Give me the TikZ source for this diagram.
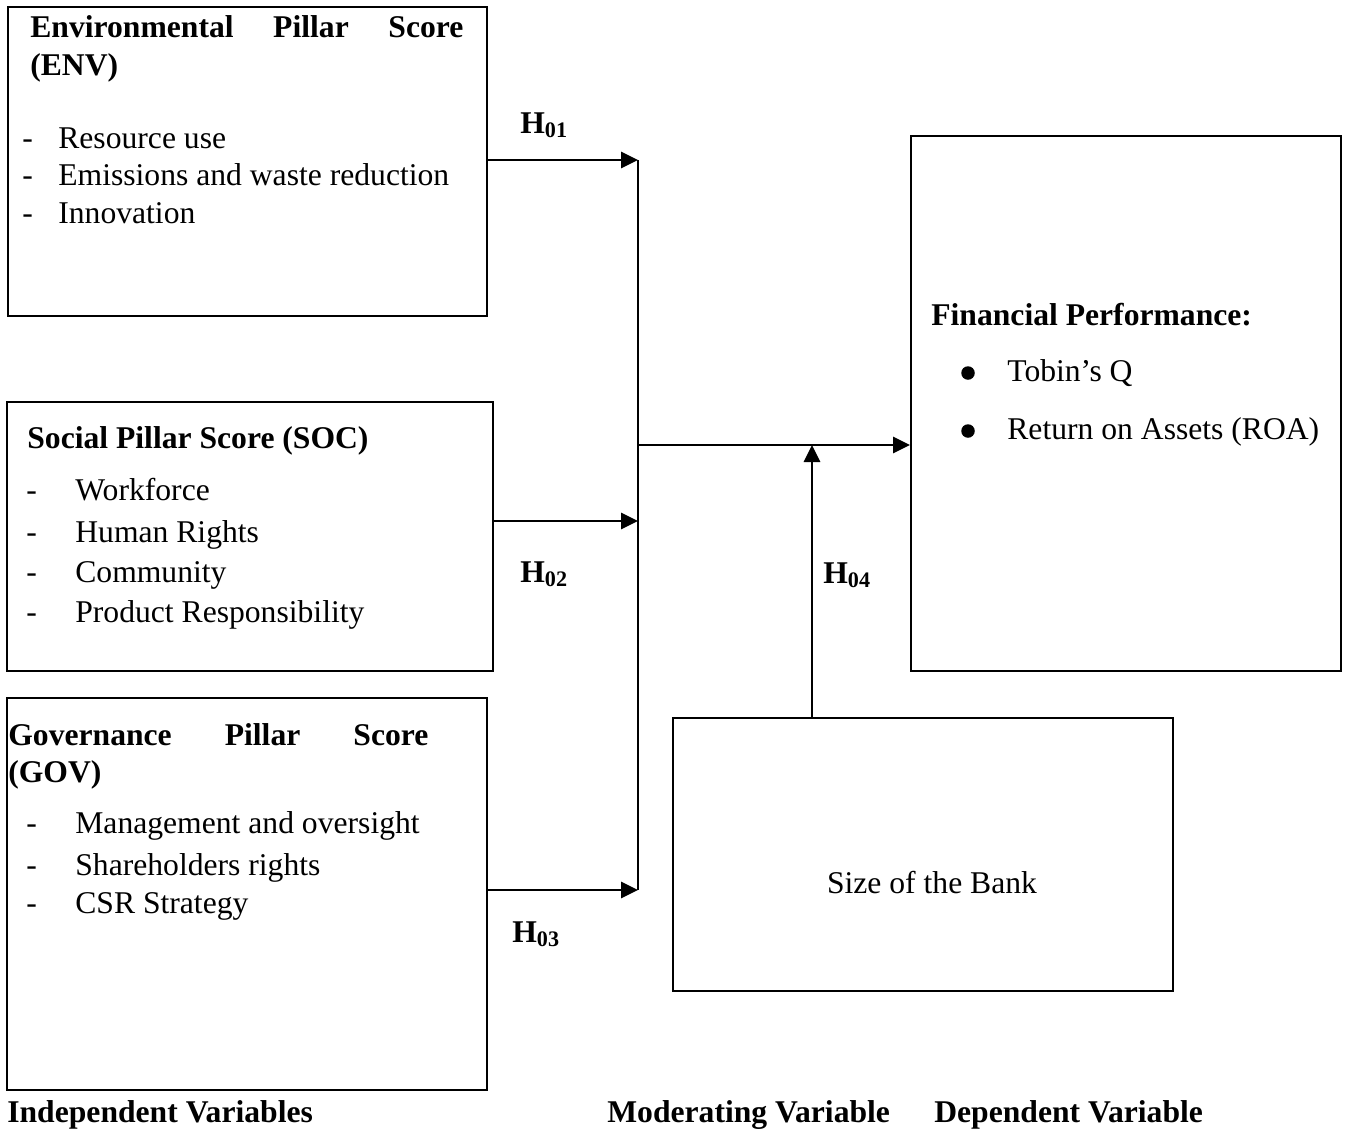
\documentclass[tikz,border=0pt]{standalone}
\usepackage{fontspec}
\setmainfont{Liberation Serif}
\usetikzlibrary{arrows.meta}

\begin{document}
\begin{tikzpicture}[
	txt/.style={inner sep=0, anchor=base west, font=\fontsize{18}{21.6}\selectfont},
	hd/.style={txt, font=\fontsize{18}{21.6}\selectfont\bfseries},
	box/.style={draw, line width=1.1pt, inner sep=0},
	dot/.style={circle, fill, inner sep=0, minimum size=0.27cm},
	trunk/.style={line width=1.6pt},
	arr/.style={line width=1.6pt, -{Triangle[length=0.34cm, width=0.32cm]}}
]
	\useasboundingbox (0,0) rectangle (26.96,-22.6);
	% boxes
	\node[box, minimum width=9.58cm, minimum height=6.18cm] (env) at (4.95,-3.23) {};
	\node[box, minimum width=9.72cm, minimum height=5.38cm] (soc) at (5.0,-10.73) {};
	\node[box, minimum width=9.6cm, minimum height=7.84cm] (gov) at (4.94,-17.88) {};
	\node[box, minimum width=8.6cm, minimum height=10.7cm] (fin) at (22.52,-8.07) {};
	\node[box, minimum width=10.0cm, minimum height=5.46cm] (bank) at (18.46,-17.09) {};
	% environmental
	\node[hd] (envh) at (0.6,-0.74) {\makebox[8.66cm][s]{Environmental\hfill Pillar\hfill Score}};
	\node[hd] (envv) at (0.6,-1.5) {(ENV)};
	\node[txt] (env1) at (0.44,-2.96) {\makebox[0.72cm][l]{-}Resource use};
	\node[txt] (env2) at (0.44,-3.7) {\makebox[0.72cm][l]{-}Emissions and waste reduction};
	\node[txt] (env3) at (0.44,-4.46) {\makebox[0.72cm][l]{-}Innovation};
	% social
	\node[hd] (soch) at (0.54,-8.96) {Social Pillar Score (SOC)};
	\node[txt] (soc1) at (0.52,-10.0) {\makebox[0.98cm][l]{-}Workforce};
	\node[txt] (soc2) at (0.52,-10.84) {\makebox[0.98cm][l]{-}Human Rights};
	\node[txt] (soc3) at (0.52,-11.64) {\makebox[0.98cm][l]{-}Community};
	\node[txt] (soc4) at (0.52,-12.44) {\makebox[0.98cm][l]{-}Product Responsibility};
	% governance
	\node[hd] (govh) at (0.16,-14.9) {\makebox[8.4cm][s]{Governance\hfill Pillar\hfill Score}};
	\node[hd] (govv) at (0.16,-15.64) {(GOV)};
	\node[txt] (gov1) at (0.52,-16.66) {\makebox[0.98cm][l]{-}Management and oversight};
	\node[txt] (gov2) at (0.52,-17.5) {\makebox[0.98cm][l]{-}Shareholders rights};
	\node[txt] (gov3) at (0.52,-18.26) {\makebox[0.98cm][l]{-}CSR Strategy};
	% financial performance
	\node[hd] (finh) at (18.62,-6.5) {Financial Performance:};
	\node[dot] (b1) at (19.36,-7.46) {};
	\node[txt] (fin1) at (20.14,-7.62) {Tobin's Q};
	\node[dot] (b2) at (19.36,-8.62) {};
	\node[txt] (fin2) at (20.14,-8.78) {Return on Assets (ROA)};
	% moderator
	\node[txt, anchor=base] (banktxt) at (18.64,-17.86) {Size of the Bank};
	% hypotheses
	\node[hd] (h1) at (10.4,-2.66) {H\textsubscript{01}};
	\node[hd] (h2) at (10.4,-11.64) {H\textsubscript{02}};
	\node[hd] (h3) at (10.24,-18.84) {H\textsubscript{03}};
	\node[hd] (h4) at (16.46,-11.66) {H\textsubscript{04}};
	% captions
	\node[hd] (indep) at (0.14,-22.44) {Independent Variables};
	\node[hd] (moder) at (12.14,-22.44) {Moderating Variable};
	\node[hd] (depen) at (18.68,-22.44) {Dependent Variable};
	% connectors
	\coordinate (j1) at (12.76,-3.2);
	\coordinate (j2) at (12.76,-10.42);
	\coordinate (j3) at (12.76,-17.8);
	\coordinate (jm) at (12.76,-8.9);
	\coordinate (hm) at (16.24,-8.9);
	\draw[trunk] (j1) -- (j3);
	\draw[arr] (env.east |- j1) -- (j1);
	\draw[arr] (soc.east |- j2) -- (j2);
	\draw[arr] (gov.east |- j3) -- (j3);
	\draw[arr] (jm) -- (fin.west |- jm);
	\draw[arr] (bank.north -| hm) -- (hm);
\end{tikzpicture}
\end{document}
